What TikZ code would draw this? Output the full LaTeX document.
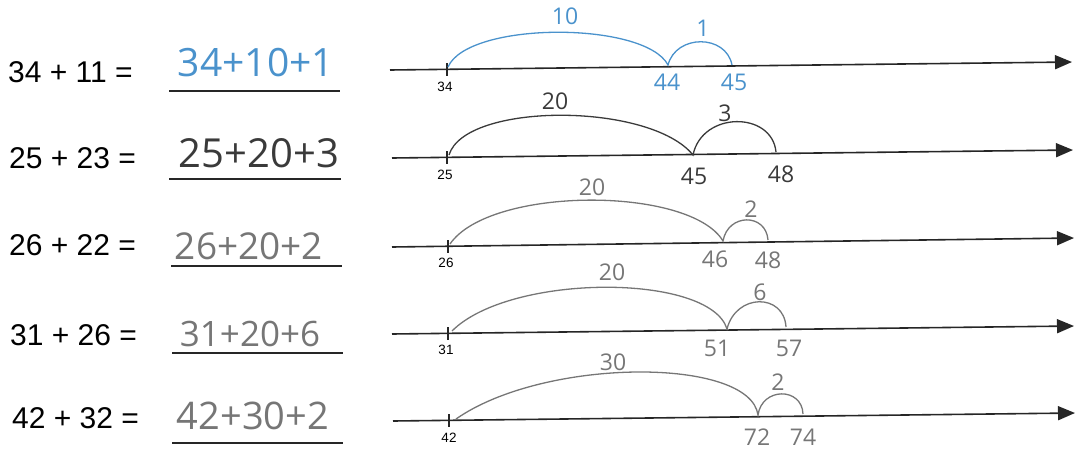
\documentclass[tikz,border=0pt]{standalone}
\usepackage{fontspec}
\setmainfont{Liberation Sans}
\newfontfamily\handfont{Open Sans}
\usetikzlibrary{arrows.meta}
\definecolor{penblue}{RGB}{74,146,204}
\definecolor{pencildark}{RGB}{58,58,58}
\definecolor{pencil}{RGB}{118,118,118}

\begin{document}
\begin{tikzpicture}[
    x=1pt, y=-1pt,
    eq/.style={anchor=west, inner sep=0pt, font=\fontsize{30}{32}\selectfont},
    answer/.style={inner sep=0pt, font=\handfont\fontsize{#1}{#1}\selectfont},
    handnum/.style={inner sep=0pt, font=\handfont\fontsize{23}{23}\selectfont},
    ticklabel/.style={inner sep=0pt, font=\fontsize{13.5}{13.5}\selectfont},
    rule/.style={line width=1.1pt, black!85},
    numline/.style={line width=1.6pt, black!85, -{Triangle[length=17pt,width=14pt]}},
    tickmark/.style={line width=1.2pt, black!85},
    jump/.style={line width=1.3pt}
  ]
    \useasboundingbox (0,0) rectangle (1079,450);

    % 34 + 11
    \begin{scope}
      \node[eq] (eqA) at (8,72) {34 + 11 =};
      \node[answer=39, text=penblue] (ansA) at (256,63) {34+10+1};
      \coordinate (uA) at (169,91); \coordinate (vA) at (340,91);
      \draw[rule] (uA) -- (vA);

      \coordinate (sA) at (390,70); \coordinate (eA) at (1072,62);
      \draw[numline] (sA) -- (eA);
      \draw[tickmark] (447,63) coordinate (tA) -- (447,76) coordinate (bA);
      \node[ticklabel] (lA) at (445,87) {34};

      \coordinate (pA0) at (448,67); \coordinate (pA1) at (668,65); \coordinate (pA2) at (732,65);
      \draw[jump, penblue] (pA0) .. controls (468,21) and (645,21) .. (pA1)
                                 .. controls (676,34) and (726,34) .. (pA2);
      \node[handnum, text=penblue] (jA1) at (565,16) {10};
      \node[handnum, text=penblue] (jA2) at (703,28) {1};
      \node[handnum, text=penblue] (nA1) at (667,82) {44};
      \node[handnum, text=penblue] (nA2) at (734,82) {45};
    \end{scope}

    % 25 + 23
    \begin{scope}
      \node[eq] (eqB) at (9,158) {25 + 23 =};
      \node[answer=40, text=pencildark] (ansB) at (259,153) {25+20+3};
      \coordinate (uB) at (169,179); \coordinate (vB) at (341,179);
      \draw[rule] (uB) -- (vB);

      \coordinate (sB) at (392,158); \coordinate (eB) at (1073,150);
      \draw[numline] (sB) -- (eB);
      \draw[tickmark] (447,151) coordinate (tB) -- (447,164) coordinate (bB);
      \node[ticklabel] (lB) at (445,175) {25};

      \coordinate (pB0) at (449,155); \coordinate (pB1) at (693,155); \coordinate (pB2) at (776,152);
      \draw[jump, pencildark] (pB0) .. controls (465,102) and (650,102) .. (pB1)
                                    .. controls (702,111) and (772,111) .. (pB2);
      \node[handnum, text=pencildark] (jB1) at (555,101) {20};
      \node[handnum, text=pencildark] (jB2) at (725,113) {3};
      \node[handnum, text=pencildark] (nB1) at (694,176) {45};
      \node[handnum, text=pencildark] (nB2) at (781,174) {48};
    \end{scope}

    % 26 + 22
    \begin{scope}
      \node[eq] (eqC) at (9,245) {26 + 22 =};
      \node[answer=37, text=pencil] (ansC) at (249,246) {26+20+2};
      \coordinate (uC) at (171,266); \coordinate (vC) at (342,266);
      \draw[rule] (uC) -- (vC);

      \coordinate (sC) at (392,247); \coordinate (eC) at (1074,238);
      \draw[numline] (sC) -- (eC);
      \draw[tickmark] (448,240) coordinate (tC) -- (448,253) coordinate (bC);
      \node[ticklabel] (lC) at (446,263) {26};

      \coordinate (pC0) at (450,244); \coordinate (pC1) at (723,241); \coordinate (pC2) at (768,240);
      \draw[jump, pencil] (pC0) .. controls (490,186) and (690,186) .. (pC1)
                                .. controls (728,213) and (766,213) .. (pC2);
      \node[handnum, text=pencil] (jC1) at (592,187) {20};
      \node[handnum, text=pencil] (jC2) at (751,209) {2};
      \node[handnum, text=pencil] (nC1) at (715,259) {46};
      \node[handnum, text=pencil] (nC2) at (768,260) {48};
    \end{scope}

    % 31 + 26
    \begin{scope}
      \node[eq] (eqD) at (10,335) {31 + 26 =};
      \node[answer=35, text=pencil] (ansD) at (250,334) {31+20+6};
      \coordinate (uD) at (172,353); \coordinate (vD) at (343,353);
      \draw[rule] (uD) -- (vD);

      \coordinate (sD) at (392,334); \coordinate (eD) at (1074,326);
      \draw[numline] (sD) -- (eD);
      \draw[tickmark] (448,327) coordinate (tD) -- (448,340) coordinate (bD);
      \node[ticklabel] (lD) at (446,350) {31};

      \coordinate (pD0) at (452,331); \coordinate (pD1) at (727,329); \coordinate (pD2) at (786,327);
      \draw[jump, pencil] (pD0) .. controls (510,273) and (710,273) .. (pD1)
                                .. controls (736,293) and (784,293) .. (pD2);
      \node[handnum, text=pencil] (jD1) at (612,272) {20};
      \node[handnum, text=pencil] (jD2) at (760,292) {6};
      \node[handnum, text=pencil] (nD1) at (717,348) {51};
      \node[handnum, text=pencil] (nD2) at (789,348) {57};
    \end{scope}

    % 42 + 32
    \begin{scope}
      \node[eq] (eqE) at (12,418) {42 + 32 =};
      \node[answer=38, text=pencil] (ansE) at (253,416) {42+30+2};
      \coordinate (uE) at (172,443); \coordinate (vE) at (343,443);
      \draw[rule] (uE) -- (vE);

      \coordinate (sE) at (393,421); \coordinate (eE) at (1075,413);
      \draw[numline] (sE) -- (eE);
      \draw[tickmark] (449,414) coordinate (tE) -- (449,427) coordinate (bE);
      \node[ticklabel] (lE) at (449,438) {42};

      \coordinate (pE0) at (456,419); \coordinate (pE1) at (758,415); \coordinate (pE2) at (803,414);
      \draw[jump, pencil] (pE0) .. controls (545,357) and (750,357) .. (pE1)
                                .. controls (762,387) and (802,387) .. (pE2);
      \node[handnum, text=pencil] (jE1) at (613,362) {30};
      \node[handnum, text=pencil] (jE2) at (778,382) {2};
      \node[handnum, text=pencil] (nE1) at (757,437) {72};
      \node[handnum, text=pencil] (nE2) at (803,437) {74};
    \end{scope}
  \end{tikzpicture}
\end{document}
